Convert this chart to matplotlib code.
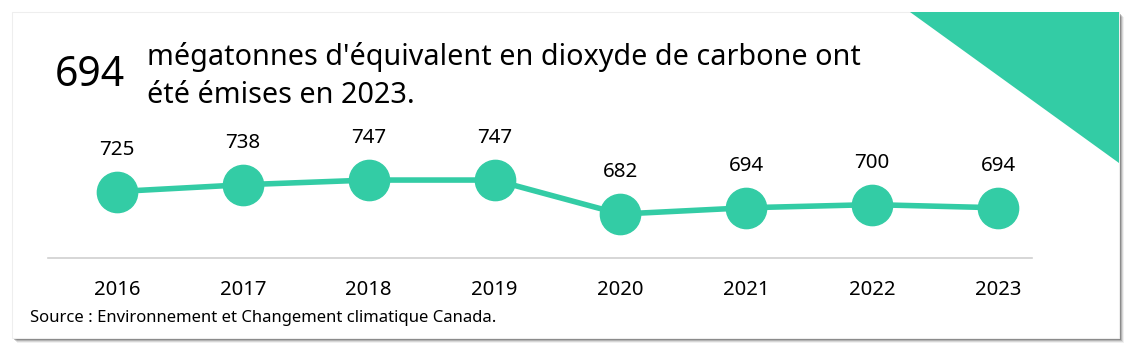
import matplotlib
matplotlib.use('Agg')
import matplotlib.pyplot as plt
from matplotlib.patches import Rectangle, Polygon

# data
years = ['2016', '2017', '2018', '2019', '2020', '2021', '2022', '2023']
emissions = [725, 738, 747, 747, 682, 694, 700, 694]

green = '#33cca5'
plt.rcParams['font.family'] = ['Noto Sans', 'DejaVu Sans']

W, H = 1140, 360
fig = plt.figure(figsize=(W / 100, H / 100), dpi=100)
fig.patch.set_facecolor('white')


def fx(px):
    return px / W


def fy(py):
    return 1 - py / H


# card shadow + card
for i, a in enumerate([0.06, 0.10, 0.16, 0.25]):
    off = 5 - i
    fig.patches.append(Rectangle((fx(12 + off), fy(338 + off)), fx(1107), 326 / H,
                                 transform=fig.transFigure, facecolor='black',
                                 alpha=a, edgecolor='none', zorder=0))
fig.patches.append(Rectangle((fx(12), fy(338)), fx(1107), 326 / H,
                             transform=fig.transFigure, facecolor='white',
                             edgecolor='#eeeeee', linewidth=0.8, zorder=1))
# corner triangle
fig.patches.append(Polygon([(fx(910), fy(12)), (fx(1119), fy(12)), (fx(1119), fy(163))],
                           closed=True, transform=fig.transFigure,
                           facecolor=green, edgecolor='none', zorder=2))

# headline
fig.text(fx(55), fy(75), '694', fontsize=29.5, va='center', ha='left', color='black', zorder=3)
fig.text(fx(147), fy(76), "mégatonnes d'équivalent en dioxyde de carbone ont\nété émises en 2023.",
         fontsize=20.7, va='center', ha='left', color='black', linespacing=1.45, zorder=3)

# line chart
ax = fig.add_axes([fx(48), fy(258), fx(1032 - 48), (258 - 100) / H])
ax.set_zorder(5)
ax.set_facecolor('none')
x = list(range(len(years)))
ax.plot(x, emissions, color=green, linewidth=4, marker='o', markersize=29,
        markeredgecolor=green, zorder=3, clip_on=False)
for xi, v in zip(x, emissions):
    ax.annotate(str(v), (xi, v), xytext=(0, 30), textcoords='offset points',
                ha='center', va='center', fontsize=14.8, color='black')

ax.set_xlim(-0.548, 7.27)
ax.set_ylim(598, 900)
ax.set_xticks(x)
ax.set_xticklabels(years, fontsize=14.6)
ax.set_yticks([])
ax.tick_params(axis='x', length=0, pad=16)
for s in ['top', 'right', 'left']:
    ax.spines[s].set_visible(False)
ax.spines['bottom'].set_color('#d0d0d0')
ax.spines['bottom'].set_linewidth(1.2)

fig.text(fx(30), fy(318), 'Source : Environnement et Changement climatique Canada.',
         fontsize=12, va='center', ha='left', color='black', zorder=3)

plt.savefig('out.png', dpi=100)
